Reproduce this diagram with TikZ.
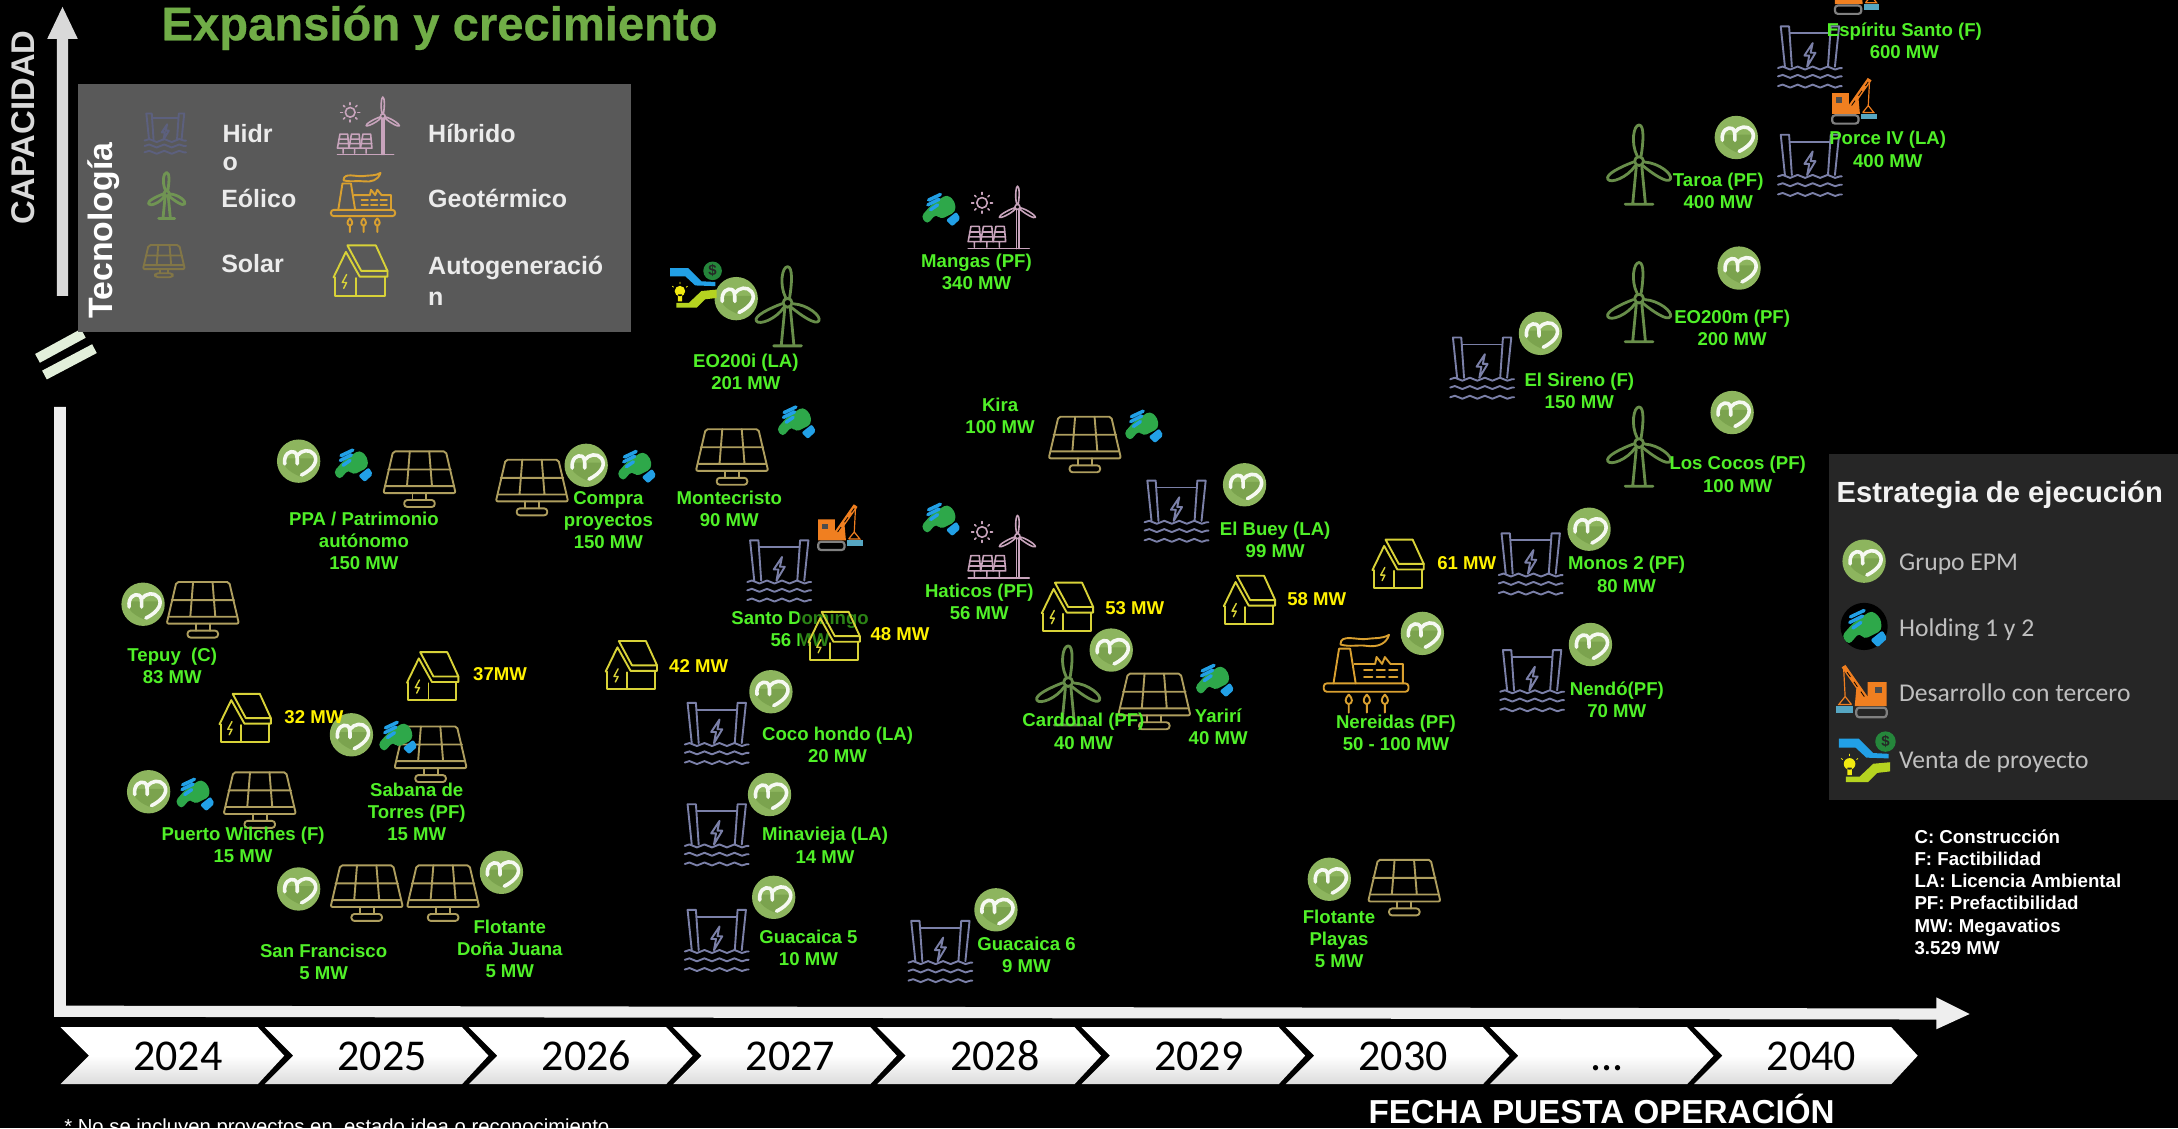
\documentclass[tikz,border=0pt]{standalone}
\usepackage{fontspec}
\setmainfont{Liberation Sans}
\newfontfamily\carlito{Carlito}
\newfontfamily\heavyfont[BoldFont={*},FakeBold=0.5]{Liberation Sans Bold}
\usetikzlibrary{decorations.pathmorphing}
\definecolor{solarC}{HTML}{AE9E5E}
\definecolor{windC}{HTML}{688E4A}
\definecolor{hydroC}{HTML}{7B80A8}
\definecolor{houseC}{HTML}{D8D238}
\definecolor{hybridC}{HTML}{C8A4BC}
\definecolor{geoC}{HTML}{D9A030}
\definecolor{badgeC}{HTML}{8DB55E}
\definecolor{badgeD}{HTML}{7BA34E}
\definecolor{handB}{HTML}{22A0E6}
\definecolor{handG}{HTML}{2EA84A}
\definecolor{craneC}{HTML}{F07F20}
\definecolor{limeC}{HTML}{B5D320}
\definecolor{labG}{HTML}{50F028}
\definecolor{axisC}{HTML}{EEEEEE}
\newcommand{\tresp}{...}
\tikzset{
  x=0.69454pt,y=-0.69454pt,
  iconline/.style={line width=0.95pt,line join=round,line cap=round},
  prj/.style={inner sep=0pt,align=center,text=labG,font=\bfseries\fontsize{9.3}{11.1}\selectfont},
  yel/.style={inner sep=0pt,text=yellow,font=\bfseries\fontsize{9.3}{11.1}\selectfont},
  legt/.style={inner sep=0pt,anchor=west,text=black!8,font=\bfseries\fontsize{12.5}{15}\selectfont},
  estt/.style={inner sep=0pt,anchor=base west,text=black!25,font=\carlito\fontsize{12.8}{14}\selectfont},
  notet/.style={inner sep=0pt,anchor=base west,text=white,font=\bfseries\fontsize{9.35}{11}\selectfont},
  yeart/.style={inner sep=0pt,anchor=base,text=black,font=\carlito\fontsize{22}{26}\selectfont},
  chev/.style={top color=white,bottom color=black!14,middle color=white},
  solar/.pic={
    \begin{scope}[iconline,draw=solarC]
    \draw[rounded corners=1pt] (-19,-20)--(19,-20)--(26,10)--(-26,10)--cycle;
    \draw (-24,5)--(24,5) (-22.5,-7)--(22.5,-7) (-7,-20)--(-9,5) (7,-20)--(9,5);
    \draw (-5,10)--(-5,15) (5,10)--(5,15);
    \draw[rounded corners=1.5pt] (-11,15) rectangle (11,20);
    \end{scope}},
  wind/.pic={
    \begin{scope}[iconline,draw=windC,line width=1.4pt]
    \foreach \a in {0,120,240}{
      \draw[rotate around={\a:(0,-3)}] (-1.5,-7) .. controls (-6,-16) and (-4,-29) .. (0,-29) .. controls (4,-29) and (3,-16) .. (1.5,-7);}
    \draw (0,-3) circle (3.2);
    \draw (-2,1)--(-4.5,27) (2,1)--(4.5,27) (-10,28)--(10,28);
    \end{scope}},
  hydro/.pic={
    \begin{scope}[iconline,draw=hydroC]
    \draw (-18,7)--(-21,-22)--(-15,-22)--(-13,7);
    \draw (18,7)--(21,-22)--(15,-22)--(13,7);
    \draw (-14.5,-17)--(14.5,-17);
    \draw (2,-10)--(-4,-1)--(-0.5,-1)--(-2,7)--(4,-3)--(0.5,-3)--cycle;
    \foreach \w in {8,14,21}{
      \draw[decorate,decoration={snake,segment length=7.5pt,amplitude=0.75pt}] (-23,\w)--(23,\w);}
    \end{scope}},
  house/.pic={
    \begin{scope}[iconline,draw=houseC]
    \draw (-8.5,-17.5)--(11,-17.5)--(19,0)--(1,0)--cycle;
    \draw (-18,4.5)--(-9.5,-13)--(0,4)--(19,4)--(19,0);
    \draw (-17,4.5)--(-17,17)--(17.5,17)--(17.5,4);
    \draw (-2.5,5)--(-2.5,17);
    \draw[line width=.7pt] (-9,2.5)--(-12,8)--(-9,8)--(-11,12);
    \end{scope}},
  hybrid/.pic={
    \begin{scope}[iconline,draw=hybridC,line width=.8pt]
    \draw (-14,-11) circle (3.8);
    \foreach \a in {0,45,...,315}{\draw[rotate around={\a:(-14,-11)}] (-14,-17)--(-14,-18.5);}
    \foreach \a in {0,120,240}{
      \draw[rotate around={\a:(11.5,-8)}] (11,-10) .. controls (9.5,-15) and (10.5,-23) .. (11.5,-23) .. controls (13,-23) and (13,-15) .. (12,-10);}
    \draw (11.5,-8) circle (1.8);
    \draw (10.8,-6)--(10.8,22) (12.4,-6)--(12.4,22);
    \foreach \p in {-24,-15,-6}{
      \draw (\p+2,6)--(\p+8,6)--(\p+9,17)--(\p,17)--cycle (\p+1,10)--(\p+8.5,10) (\p+.5,13.5)--(\p+9,13.5) (\p+4.5,17)--(\p+4.5,21);}
    \draw (-24,22)--(20,22);
    \end{scope}},
  geo/.pic={
    \begin{scope}[iconline,draw=geoC]
    \draw[rounded corners=1.5pt] (-30,8) rectangle (31,14);
    \draw (-23,8)--(-19,-17)--(-11,-17)--(-7,8);
    \draw (-18,-20) .. controls (-18,-28) and (-6,-23) .. (1,-24) .. controls (8,-25) and (12,-24) .. (17,-27) .. controls (15,-20) and (8,-18) .. (1,-19) .. controls (-5,-20) and (-11,-18) .. (-18,-20);
    \draw (-8,-6)--(7,-6)--(8,-11)--(12,-6)--(14,-11)--(18,-6)--(27,-6)--(27,8);
    \foreach \p in {-1,8,17}{\draw (\p,-1.5)--(\p+6,-1.5) (\p,3.5)--(\p+6,3.5);}
    \foreach \p in {-12,1,14}{
      \draw (\p,16) .. controls (\p+3,19) and (\p+3,22) .. (\p,23) .. controls (\p-3,22) and (\p-3,19) .. (\p,16) (\p,23)--(\p,29);}
    \end{scope}},
  badge/.pic={
    \fill[badgeC] (0,0) circle (15.6);
    \fill[badgeD] (2,11.5) .. controls (-4,9) and (-12,5) .. (-11,-2) -- (12,-2) .. controls (12,5) and (7,8) .. (2,11.5) -- cycle;
    \draw[white!92!badgeC,line width=1.8pt,line cap=round,line join=round] (-10,2) .. controls (-11,-5) and (-6,-8) .. (-3,-6.5) .. controls (-1,-5.5) and (-1,-3) .. (-1,2)
      (-1,-4) .. controls (2,-8) and (8,-9) .. (11,-5) .. controls (14,-1) and (12,5) .. (2,10);},
  holding/.pic={
    \fill[handG,rounded corners=2pt] (-14,6)--(-7,-2)--(0,-7)--(5,-10)--(10.5,-5)--(11,2.5)--(5,5.5)--(0,8)--(-3,4)--(-9.5,11.5)--cycle;
    \draw[handB,line width=1.7pt,line cap=round] (-8.5,-6)--(0,-10) (-9,-2.5)--(-1,-6.5) (-7,1)--(-2,-2.5);
    \fill[handB,rounded corners=1pt] (4,8.5)--(11.5,2.5)--(14.5,7.5)--(8.5,13)--cycle;},
  crane/.pic={
    \fill[craneC] (-15,-6) rectangle (-3,9) (-3,3)--(4,-2)--(5,9)--(-3,9)--cycle;
    \draw[craneC,line width=2.3pt] (-2,4)--(12,-16);
    \draw[black,line width=.4pt,dashed] (-1,3)--(11,-14);
    \fill[black!70] (-12,-3) rectangle (-8,1);
    \draw[craneC,line width=.6pt] (12,-16)--(11,3)--(7,8) (11,3)--(15,8)--(7,8);
    \fill[hydroC!70!cyan] (6,9) rectangle (17,13);
    \draw[black!50,line width=1.1pt,rounded corners=1.5pt] (-15,10) rectangle (4,16);},
  venta/.pic={
    \fill[handB] (-16.5,-13)--(-3.5,-13)--(6,-3.5)--(16,-3)--(16,0)--(1.5,-.5)--(-5.5,-7)--(-16.5,-7)--cycle;
    \fill[handG!80!black] (14,-11) circle (6.7);
    \node[inner sep=0pt,text=black!85,font=\bfseries\fontsize{7.5}{8}\selectfont] (-dollar) at (14,-11) {\$};
    \fill[limeC] (-12,12)--(-3,12)--(6,3.5)--(17,2.5)--(17,8.5)--(8.5,9.5)--(2.5,15.5)--(-12,15.5)--cycle;
    \fill[yellow!80!limeC] (-9.5,3.6) circle (3.8) (-11,6) rectangle (-8,11);
    \draw[yellow!80!limeC,line width=.4pt] (-9.5,-3)--(-9.5,-1.5) (-15,0)--(-14,.8) (-4,0)--(-5,.8);}
}
\newcommand{\lab}[4]{\node[prj] (#1) at (#2,#3) {#4};}
\newcommand{\yl}[4]{\node[yel] (#1) at (#2,#3) {#4};}
\begin{document}
\begin{tikzpicture}
\useasboundingbox (0,0) rectangle (1568,812.1);
\fill[black] (0,0) rectangle (1568,812.1);
\begin{scope}
\clip (0,0) rectangle (1568,812.1);
% title
\node[inner sep=0pt,anchor=base west,text={rgb,255:red,112;green,173;blue,71},font=\heavyfont\fontsize{23.6}{28}\selectfont] (title) at (116,29) {Expansión y crecimiento};
% vertical arrow
\fill[black!15] (41,213)--(49,213)--(49,28)--(56,28)--(45,5)--(34,28)--(41,28)--cycle;
\node[rotate=90,inner sep=0pt,text=black!15,font=\bfseries\fontsize{16.4}{18}\selectfont] (cap) at (17,92) {CAPACIDAD};
% axis break
\draw[draw={rgb,255:red,226;green,239;blue,218},line width=5pt] (27,258)--(60,240) (32,270)--(68,251);
% L axis
\fill[axisC] (39,293)--(47.5,293)--(47.5,724)--(1394,726)--(1394,718)--(1418,730)--(1394,741)--(1394,734)--(39,732)--cycle;
% technology legend
\fill[black!65] (56,60.5) rectangle (454,239);
\node[rotate=90,inner sep=0pt,text=white,font=\bfseries\fontsize{16.9}{18}\selectfont] (tec) at (75,166) {Tecnología};
\begin{scope}
\colorlet{hydroC}{hydroC!75!black}\colorlet{windC}{windC!95!white}\colorlet{solarC}{solarC!75!black}
\pic[scale=.65] at (119,96) {hydro};
\pic[scale=.58] at (120,141) {wind};
\pic[scale=.58] at (118,188) {solar};
\pic[scale=.92] at (265,91) {hybrid};
\pic[scale=.76] at (261,145) {geo};
\pic[scale=1.05] at (259,195) {house};
\end{scope}
\node[legt] (l1) at (160,96) {Hidr};
\node[legt] (l1b) at (160,118) {o};
\node[legt] (l2) at (159,143) {Eólico};
\node[legt] (l3) at (159,190) {Solar};
\node[legt] (l4) at (308,96) {Híbrido};
\node[legt] (l5) at (308,143) {Geotérmico};
\node[legt] (l6) at (308,193) {Autogeneració};
\node[legt] (l6b) at (308,215) {n};
% strategy legend
\fill[black!85] (1317,327) rectangle (1568,576);
\node[inner sep=0pt,anchor=base west,text=black!5,font=\bfseries\fontsize{14.6}{16}\selectfont] (est) at (1322,362) {Estrategia de ejecución};
\pic at (1342,404) {badge};
\fill[black] (1342,451) circle (17);
\pic[scale=1.15] at (1342,451) {holding};
\pic[xscale=-1.15,yscale=1.15] at (1341,498) {crane};
\pic[scale=1.1] at (1342,546) {venta};
\node[estt] (e1) at (1367,411) {Grupo EPM};
\node[estt] (e2) at (1367,458) {Holding 1 y 2};
\node[estt] (e3) at (1367,505) {Desarrollo con tercero};
\node[estt] (e4) at (1367,553) {Venta de proyecto};
% notes
\node[notet] (n1) at (1378,607) {C: Construcción};
\node[notet] (n2) at (1378,623) {F: Factibilidad};
\node[notet] (n3) at (1378,639) {LA: Licencia Ambiental};
\node[notet] (n4) at (1378,655) {PF: Prefactibilidad};
\node[notet] (n5) at (1378,671) {MW: Megavatios};
\node[notet] (n6) at (1378,687) {3.529 MW};
% timeline
\foreach \i/\yr in {0/2024,1/2025,2/2026,3/2027,4/2028,5/2029,6/2030,7/\tresp,8/2040}{
  \pgfmathsetmacro{\cx}{43.6+147*\i}
  \shade[chev] (\cx,739.5)--++(142,0)--++(19,20.5)--++(-19,20.5)--++(-142,0)--++(20.5,-20.5)--cycle;
  \node[yeart] (y\i) at (\cx+84.5,771) {\yr};
}
\node[inner sep=0pt,anchor=base west,text=white,font=\fontsize{10.15}{12}\selectfont] (foot) at (46,816) {* No se incluyen proyectos en\ \ estado idea o reconocimiento};
\node[inner sep=0pt,text=white,font=\bfseries\fontsize{16.6}{18}\selectfont] (fecha) at (1153,798) {FECHA PUESTA OPERACIÓN};
% icons
\foreach \p in {(146,439),(302,345),(383,351),(527,329),(781,320),(187,576),(310,543),(264,643),(319,643),(831,505),(1011,639)}{\pic at \p {solar};}
\foreach \p in {(567,221),(1180,119),(1180,218),(1180,322),(769,494)}{\pic at \p {wind};}
\foreach \p in {(1303,41),(1303,119),(1067,265),(847,368),(1102,406),(1103,490),(561,411),(516,528),(516,601),(516,677),(677,685)}{\pic at \p {hydro};}
\foreach \p in {(176,517),(311,487),(454,479),(768,437),(899,432),(1006,406)}{\pic at \p {house};}
\foreach \p in {(721,157),(721,394)}{\pic at \p {hybrid};}
\pic at (983,484) {geo};
\foreach \p in {(215,332),(422,335),(530,215),(103,435),(107,570),(253,529),(215,640),(361,628),(555,498),(554,572),(557,646),(717,655),(800,468),(896,349),(1109,240),(1250,99),(1252,193),(1247,297),(1144,381),(1145,464),(1024,456),(957,633)}{\pic at \p {badge};}
\foreach \p in {(254,334),(458,335),(573,303),(677,150),(677,373),(823,306),(140,571),(286,530),(874,489)}{\pic at \p {holding};}
\foreach \p in {(604,380),(1334,73),(1336,-6)}{\pic at \p {crane};}
\pic at (499,206) {venta};
% project labels
\lab{a1}{1371}{29.5}{Espíritu Santo (F)\\600 MW}
\lab{a2}{1359}{107.5}{Porce IV (LA)\\400 MW}
\lab{a3}{1237}{137.5}{Taroa (PF)\\400 MW}
\lab{a4}{1247}{236}{EO200m (PF)\\200 MW}
\lab{a5}{1137}{281.5}{El Sireno (F)\\150 MW}
\lab{a6}{1251}{341.5}{Los Cocos (PF)\\100 MW}
\lab{a7}{1171}{413.5}{Monos 2 (PF)\\80 MW}
\lab{a8}{1164}{503.5}{Nendó(PF)\\70 MW}
\lab{a9}{1005}{527.5}{Nereidas (PF)\\50 - 100 MW}
\lab{a10}{877}{523.5}{Yarirí\\40 MW}
\lab{a11}{780}{526.5}{Cardonal (PF)\\40 MW}
\lab{a12}{918}{388.5}{El Buey (LA)\\99 MW}
\lab{a13}{720}{299.5}{Kira\\100 MW}
\lab{a14}{703}{195.5}{Mangas (PF)\\340 MW}
\lab{a15}{537}{267.5}{EO200i (LA)\\201 MW}
\lab{a16}{525}{366.5}{Montecristo\\90 MW}
\lab{a17}{438}{374.5}{Compra\\proyectos\\150 MW}
\lab{a18}{262}{389.5}{PPA / Patrimonio\\autónomo\\150 MW}
\lab{a19}{576}{452.5}{Santo Domingo\\56 MW}
\lab{a20}{705}{433.5}{Haticos (PF)\\56 MW}
\lab{a21}{124}{479.5}{Tepuy\ \ (C)\\83 MW}
\lab{a22}{300}{584.5}{Sabana de\\Torres (PF)\\15 MW}
\lab{a23}{175}{608.5}{Puerto Wilches (F)\\15 MW}
\lab{a24}{233}{692.5}{San Francisco\\5 MW}
\lab{a25}{367}{683}{Flotante\\Doña Juana\\5 MW}
\lab{a26}{603}{536.5}{Coco hondo (LA)\\20 MW}
\lab{a27}{594}{608.5}{Minavieja (LA)\\14 MW}
\lab{a28}{582}{682.5}{Guacaica 5\\10 MW}
\lab{a29}{739}{687.5}{Guacaica 6\\9 MW}
\lab{a30}{964}{676}{Flotante\\Playas\\5 MW}
\yl{b1}{226}{516.5}{32 MW}
\yl{b2}{360}{485.5}{37MW}
\yl{b3}{503}{479.5}{42 MW}
\yl{b4}{648}{456.5}{48 MW}
\yl{b5}{817}{437.5}{53 MW}
\yl{b6}{948}{431.5}{58 MW}
\yl{b7}{1056}{405.5}{61 MW}
% house over Santo Domingo
\fill[black,opacity=.45] (575,437) rectangle (626,480);
\pic at (600,458) {house};
\end{scope}
\end{tikzpicture}
\end{document}
